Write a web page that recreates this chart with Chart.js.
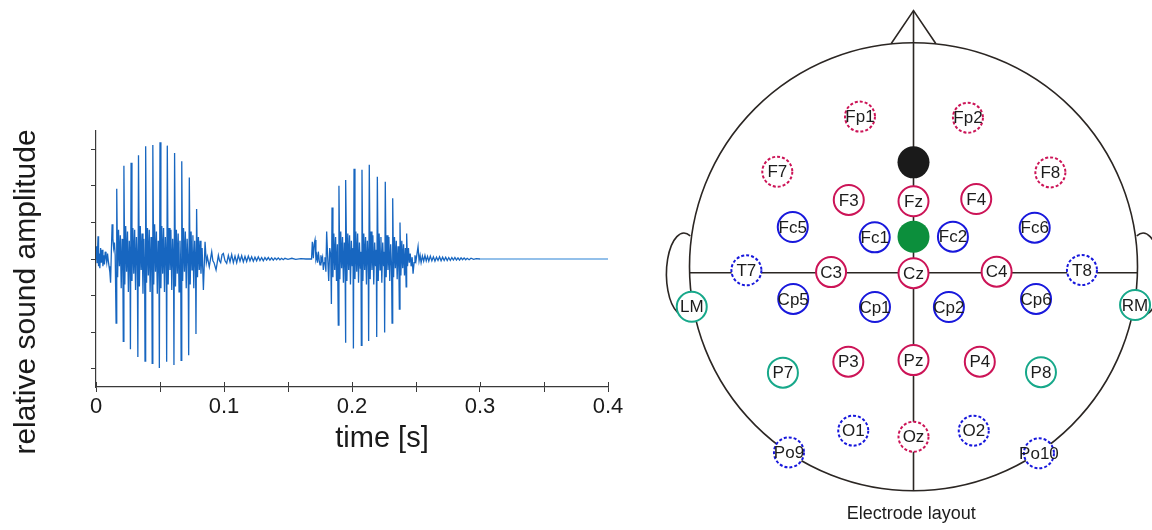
<!DOCTYPE html>
<html><head><meta charset="utf-8">
<script src="https://cdn.jsdelivr.net/npm/chart.js@4.4.1/dist/chart.umd.min.js"></script>
<style>
html,body{margin:0;padding:0;background:#fff;width:1152px;height:530px;overflow:hidden}
#wave{position:absolute;left:0;top:0}
#head{position:absolute;left:640px;top:0}
</style></head><body>
<canvas id="wave" width="640" height="530"></canvas>
<canvas id="head" width="512" height="530"></canvas>
<script>
// ---------------- waveform data ----------------
const xTickValues = [0, 0.05, 0.1, 0.15, 0.2, 0.25, 0.3, 0.35, 0.4];
const xTickLabels = ['0', '', '0.1', '', '0.2', '', '0.3', '', '0.4'];
const yTickValues = [-3, -2, -1, 0, 1, 2, 3];
const xTitle = 'time [s]';
const yTitle = 'relative sound amplitude';

// [time (s), relative amplitude]
const onset1 = [[0,0],[0.0004,0.35],[0.0008,-0.1],[0.0012,0.2],[0.0016,0.62],[0.002,-0.2],[0.0025,0.15],[0.003,-0.25],[0.0036,0.3],[0.0042,-0.1],[0.0048,0.25],[0.0054,-0.2],[0.006,0.1],[0.0066,-0.15],[0.0072,0.2],[0.0078,0.05],[0.0084,-0.1],[0.009,0.15],[0.0096,-0.05],[0.0102,-0.2],[0.0108,-0.35],[0.0114,-0.65],[0.012,0.2],[0.0126,0.95],[0.0132,0.55],[0.0138,0.3],[0.0144,0.45],[0.015,0.1]];
const burst1 = [
[0.0157,-1.75],[0.0162,1.92],[0.0169,-0.5],[0.0176,0.8],[0.0183,-0.2],[0.019,0.65],[0.0197,-0.8],[0.0204,0.55],[0.021,-0.3],
[0.0213,-2.25],[0.0218,2.55],[0.0225,-0.7],[0.0232,0.9],[0.0239,-0.35],[0.0246,0.75],[0.0253,-0.9],[0.026,0.5],[0.0266,-0.25],
[0.0269,-2.47],[0.0274,2.63],[0.0281,-0.6],[0.0288,0.85],[0.0295,-0.4],[0.0302,0.8],[0.0309,-0.85],[0.0316,0.6],[0.0323,-0.2],
[0.0327,-2.68],[0.0332,2.84],[0.0339,-0.75],[0.0346,0.9],[0.0353,-0.3],[0.036,0.7],[0.0367,-0.95],[0.0374,0.55],[0.038,-0.3],
[0.0383,-2.79],[0.0388,3.08],[0.0395,-0.65],[0.0402,0.85],[0.0409,-0.45],[0.0416,0.8],[0.0423,-0.9],[0.043,0.6],[0.0436,-0.25],
[0.0439,-2.85],[0.0444,3.12],[0.0451,-0.7],[0.0458,0.95],[0.0465,-0.35],[0.0472,0.75],[0.0479,-0.95],[0.0486,0.5],[0.0492,-0.3],
[0.0495,-2.98],[0.05,3.19],[0.0507,-0.8],[0.0514,0.9],[0.0521,-0.4],[0.0528,0.85],[0.0535,-0.9],[0.0542,0.6],[0.0549,-0.2],
[0.0552,-2.81],[0.0557,3.1],[0.0564,-0.7],[0.0571,0.85],[0.0578,-0.3],[0.0585,0.8],[0.0592,-0.85],[0.0599,0.55],[0.0606,-0.25],
[0.0609,-2.9],[0.0614,2.9],[0.0621,-0.75],[0.0628,0.8],[0.0635,-0.4],[0.0642,0.7],[0.0649,-0.9],[0.0656,0.5],[0.0662,-0.3],
[0.0665,-2.77],[0.067,2.67],[0.0677,-0.6],[0.0684,0.85],[0.0691,-0.35],[0.0698,0.75],[0.0705,-0.8],[0.0712,0.55],[0.072,-0.2],
[0.0724,-2.63],[0.0729,2.23],[0.0736,-0.7],[0.0743,0.75],[0.075,-0.3],[0.0757,0.65],[0.0764,-0.8],[0.0771,0.5],[0.0778,-0.25],
[0.0781,-2.05],[0.0786,1.37],[0.0793,-0.5],[0.08,0.6],[0.0807,-0.3],[0.0813,0.5]];
const decay1 = [[0.082,-0.4],[0.0829,0.3],[0.0839,-0.85],[0.0852,0.47],[0.0862,-0.1],[0.087,0.06],[0.0885,-0.21],[0.0904,0.2],[0.0913,-0.05],[0.0922,-0.1],[0.0938,-0.3],[0.0956,0.1],[0.0965,-0.05],[0.0974,-0.1],[0.0985,0.12],[0.0995,0.15],[0.1008,-0.05],[0.1021,-0.12],[0.1034,0.1],[0.1047,-0.08],[0.106,0.12],[0.1073,-0.1],[0.1086,0.08],[0.1099,-0.1],[0.1112,0.1],[0.1125,-0.06],[0.1138,0.09],[0.1151,-0.08],[0.1164,0.07],[0.1177,-0.07],[0.119,0.08],[0.1203,-0.05],[0.1216,0.06],[0.1229,-0.06],[0.1242,0.05],[0.1255,-0.05],[0.1268,0.06],[0.1281,-0.04],[0.1294,0.04],[0.1307,-0.05],[0.132,0.04],[0.1333,-0.03],[0.1346,0.04],[0.1359,-0.03],[0.1372,0.03],[0.1385,-0.03],[0.1398,0.03],[0.1411,-0.02],[0.1424,0.03],[0.1437,-0.02],[0.145,0.02],[0.1463,-0.02],[0.1476,0.02],[0.15,-0.01],[0.153,0.02],[0.156,-0.01],[0.16,0.01],[0.164,0],[0.1684,0]];
const onset2 = [[0.169,0.47],[0.1698,0.02],[0.1704,0.4],[0.1711,0.52],[0.1718,0],[0.1724,0.1],[0.173,-0.1],[0.1737,0.2],[0.1744,-0.05],[0.175,-0.16],[0.1757,0.1],[0.1763,-0.05],[0.177,0.05],[0.1776,-0.3],[0.1783,-0.1],[0.1789,0.05],[0.1796,-0.35],[0.1802,0.75],[0.181,0.05],[0.1818,-0.6],[0.1826,0.3],[0.1834,0.1]];
const burst2 = [
[0.1839,-1.23],[0.1844,1.41],[0.1851,-0.5],[0.1858,0.7],[0.1865,-0.3],[0.1872,0.6],[0.1879,-0.6],[0.1886,0.4],
[0.1893,-1.81],[0.1898,2.0],[0.1905,-0.55],[0.1912,0.75],[0.1919,-0.25],[0.1926,0.6],[0.1933,-0.65],[0.194,0.45],[0.1946,-0.2],
[0.1948,-2.29],[0.1953,2.16],[0.196,-0.6],[0.1967,0.7],[0.1974,-0.3],[0.1981,0.65],[0.1988,-0.7],[0.1995,0.5],[0.2002,-0.2],[0.2008,0.3],
[0.2011,-2.45],[0.2016,2.47],[0.2023,-0.55],[0.203,0.75],[0.2037,-0.35],[0.2044,0.7],[0.2051,-0.65],[0.2058,0.45],[0.2065,-0.25],[0.207,0.2],
[0.2073,-2.36],[0.2078,2.44],[0.2085,-0.6],[0.2092,0.7],[0.2099,-0.3],[0.2106,0.6],[0.2113,-0.7],[0.212,0.5],[0.2127,-0.2],
[0.213,-2.24],[0.2135,2.58],[0.2142,-0.55],[0.2149,0.75],[0.2156,-0.3],[0.2163,0.65],[0.217,-0.7],[0.2177,0.45],[0.2184,-0.2],[0.219,0.25],
[0.2193,-2.13],[0.2198,2.25],[0.2205,-0.6],[0.2212,0.7],[0.2219,-0.3],[0.2226,0.6],[0.2233,-0.65],[0.224,0.45],[0.2247,-0.2],[0.2252,0.2],
[0.2255,-2.01],[0.226,2.11],[0.2267,-0.5],[0.2274,0.65],[0.2281,-0.3],[0.2288,0.6],[0.2295,-0.6],[0.2302,0.4],[0.2309,-0.2],
[0.2313,-1.75],[0.2318,1.66],[0.2325,-0.5],[0.2332,0.6],[0.2339,-0.25],[0.2346,0.5],[0.2353,-0.55],[0.236,0.35],[0.2366,-0.2],
[0.237,-1.37],[0.2375,1.0],[0.2382,-0.45],[0.2389,0.5],[0.2396,-0.25],[0.2403,0.4],[0.241,-0.45],[0.2417,0.3]];
const decay2 = [[0.2423,-0.76],[0.2427,0.7],[0.2434,-0.2],[0.2441,0.3],[0.2448,-0.1],[0.2455,0.15],[0.2462,-0.2],[0.247,0.05],[0.2477,-0.4],[0.2485,-0.1],[0.2492,0.1],[0.25,-0.05],[0.2508,0.15],[0.2516,0.34],[0.2524,-0.05],[0.2532,0.1],[0.254,-0.1],[0.255,0.08],[0.256,-0.06],[0.257,0.1],[0.258,-0.05],[0.259,0.07],[0.26,-0.06],[0.2612,0.08],[0.2624,-0.05],[0.2636,0.06],[0.2648,-0.06],[0.266,0.05],[0.2672,-0.04],[0.2684,0.06],[0.2696,-0.05],[0.2708,0.05],[0.272,-0.04],[0.2732,0.05],[0.2744,-0.04],[0.2756,0.04],[0.2768,-0.04],[0.278,0.04],[0.2792,-0.03],[0.2804,0.04],[0.2816,-0.03],[0.2828,0.03],[0.284,-0.03],[0.2852,0.03],[0.2864,-0.02],[0.2876,0.03],[0.2888,-0.02],[0.29,0.02],[0.2915,-0.02],[0.293,0.02],[0.295,-0.01],[0.297,0.01]];
const silence = [[0.3,0],[0.4,0]];

// ---------------- electrode data (head radius = 100) ----------------
const electrodeNames = ['Fp1','Fp2','F7','F8','F3','Fz','F4','Fc5','Fc1','Fc2','Fc6','T7','C3','Cz','C4','T8','LM','RM','Cp5','Cp1','Cp2','Cp6','P7','P3','Pz','P4','P8','O1','Oz','O2','Po9','Po10'];
const electrodeX = [-23.9,24.3,-60.8,61.1,-28.9,0,28.0,-53.9,-17.3,17.6,54.1,-74.6,-36.8,0,37.1,75.2,-99.0,98.9,-53.7,-17.2,15.8,54.7,-58.3,-29.1,0,29.6,56.9,-26.9,0,26.9,-55.6,56.0];
const electrodeY = [67.0,66.5,42.4,42.1,29.8,29.2,30.2,17.7,13.1,13.4,17.4,-1.6,-2.4,-2.9,-2.2,-1.5,-17.9,-17.1,-14.4,-18.0,-18.0,-14.4,-47.3,-42.4,-41.7,-42.4,-47.1,-73.2,-75.9,-73.2,-82.9,-83.3];
const electrodeGroup = ['frontalExtra','frontalExtra','frontalExtra','frontalExtra','core','core','core','inner','inner','inner','inner','outer','core','core','core','outer','mastoid','mastoid','inner','inner','inner','inner','mastoid','core','core','core','mastoid','outer','frontalExtra','outer','outer','outer'];
const specialNames = ['ground','reference'];
const specialX = [0, 0];
const specialY = [46.6, 13.4];
const headRadius = 100;
const noseOutline = [[-10,99.5],[0,114.3],[10,99.5]];
const midline = [[0,114.3],[0,-100]];
const coronalLine = [[-100,-2.7],[100,-2.7]];
const caption = 'Electrode layout';

// ---------------- styles ----------------
const FONT = "'Liberation Sans', Arial, sans-serif";
const groupStyle = {
  core:         {color:'#cc1457', dashed:false},
  frontalExtra: {color:'#cc1457', dashed:true},
  inner:        {color:'#1818dc', dashed:false},
  outer:        {color:'#1818dc', dashed:true},
  mastoid:      {color:'#17a88a', dashed:false}
};
const specialColor = ['#1a1a1a', '#0c8f3c'];
const lineColor = '#2b2623';

// ---------------- waveform chart ----------------
const wavePoints = [...onset1, ...burst1, ...decay1, ...onset2, ...burst2, ...decay2, ...silence].map(([t, a]) => ({x: t, y: a}));

const axisColor = '#3a3a3a';
const innerTicks = {
  id: 'innerTicks',
  afterDraw(chart) {
    const {ctx, chartArea} = chart;
    const xs = chart.scales.x;
    ctx.save();
    ctx.strokeStyle = axisColor;
    ctx.lineWidth = 1;
    xs.ticks.forEach(t => {
      const px = Math.round(xs.getPixelForValue(t.value)) + 0.5;
      ctx.beginPath();
      ctx.moveTo(px, chartArea.bottom);
      ctx.lineTo(px, chartArea.bottom - 5);
      ctx.stroke();
    });
    ctx.fillStyle = '#1a1a1a';
    ctx.font = '29px ' + FONT;
    ctx.textAlign = 'center';
    ctx.textBaseline = 'alphabetic';
    ctx.fillText(xTitle, (chartArea.left + chartArea.right) / 2 + 30, 447);
    ctx.translate(27, (chartArea.top + chartArea.bottom) / 2 + 33);
    ctx.rotate(-Math.PI / 2);
    ctx.font = '30px ' + FONT;
    ctx.textBaseline = 'middle';
    ctx.fillText(yTitle, 0, 0);
    ctx.restore();
  }
};

new Chart(document.getElementById('wave'), {
  type: 'line',
  data: {datasets: [{
    data: wavePoints,
    borderColor: '#1766c0',
    borderWidth: 1.3,
    pointRadius: 0,
    tension: 0,
    segment: {
      borderColor: c => c.p0.parsed.x >= 0.3 ? '#93c0ea' : undefined,
      borderWidth: c => c.p0.parsed.x >= 0.3 ? 1.8 : undefined
    }
  }]},
  options: {
    responsive: false, animation: false,
    layout: {padding: {top: 131, right: 32, left: 0, bottom: 0}},
    plugins: {legend: {display: false}, tooltip: {enabled: false}},
    scales: {
      x: {
        type: 'linear', min: 0, max: 0.4,
        afterBuildTicks: s => { s.ticks = xTickValues.map(v => ({value: v})); },
        afterFit: s => { s.height = 143; },
        ticks: {
          autoSkip: false, maxRotation: 0, padding: 2,
          color: '#1a1a1a', font: {size: 22, family: FONT},
          callback: (v, i) => xTickLabels[i]
        },
        grid: {drawOnChartArea: false, drawTicks: true, tickLength: 5, color: axisColor, lineWidth: 1},
        border: {display: true, color: axisColor, width: 1.2}
      },
      y: {
        type: 'linear', min: -3.5, max: 3.5,
        afterBuildTicks: s => { s.ticks = yTickValues.map(v => ({value: v})); },
        afterFit: s => { s.width = 96; },
        ticks: {display: false},
        grid: {drawOnChartArea: false, drawTicks: true, tickLength: 5, color: axisColor, lineWidth: 1},
        border: {display: true, color: axisColor, width: 1.2}
      }
    }
  },
  plugins: [innerTicks]
});

// ---------------- electrode layout chart ----------------
const groups = Object.keys(groupStyle);
const electrodeDatasets = groups.map(g => {
  const idx = electrodeNames.map((n, i) => i).filter(i => electrodeGroup[i] === g);
  return {
    data: idx.map(i => ({x: electrodeX[i], y: electrodeY[i]})),
    labels: idx.map(i => electrodeNames[i]),
    dashed: groupStyle[g].dashed,
    pointRadius: 15,
    pointBorderWidth: 2,
    pointBorderColor: groupStyle[g].color,
    pointBackgroundColor: '#ffffff',
    showLine: false
  };
});
const specialDataset = {
  data: specialNames.map((n, i) => ({x: specialX[i], y: specialY[i]})),
  pointRadius: 16, pointBorderWidth: 0,
  pointBackgroundColor: specialColor, pointBorderColor: specialColor,
  showLine: false
};
const lineDataset = pts => ({
  data: pts.map(([x, y]) => ({x, y})),
  showLine: true, pointRadius: 0, borderColor: lineColor, borderWidth: 1.6, tension: 0, fill: false
});

const headPlugin = {
  id: 'headPlugin',
  beforeDatasetsDraw(chart) {
    const {ctx} = chart;
    const xs = chart.scales.x, ys = chart.scales.y;
    const cx = xs.getPixelForValue(0), cy = ys.getPixelForValue(0);
    const unit = xs.getPixelForValue(1) - cx;
    ctx.save();
    ctx.strokeStyle = lineColor;
    ctx.lineWidth = 1.6;
    ctx.beginPath();
    ctx.arc(cx, cy, headRadius * unit, 0, Math.PI * 2);
    ctx.stroke();
    // ears
    const ex = xs.getPixelForValue(-102.5), exr = xs.getPixelForValue(102.5), ey = ys.getPixelForValue(-3.3);
    ctx.beginPath();
    ctx.ellipse(ex, ey, 7.8 * unit, 18.3 * unit, 0, -1.2, Math.PI / 2, true);
    ctx.stroke();
    ctx.beginPath();
    ctx.ellipse(exr, ey, 7.8 * unit, 18.3 * unit, 0, Math.PI + 1.2, Math.PI / 2, false);
    ctx.stroke();
    ctx.restore();
  },
  beforeDatasetDraw(chart, args) {
    const ds = chart.data.datasets[args.index];
    if (ds.dashed) chart.ctx.setLineDash([3, 2]);
  },
  afterDatasetDraw(chart) {
    chart.ctx.setLineDash([]);
  },
  afterDatasetsDraw(chart) {
    const {ctx} = chart;
    ctx.save();
    ctx.fillStyle = '#1c1c1c';
    ctx.font = '17px ' + FONT;
    ctx.textAlign = 'center';
    ctx.textBaseline = 'middle';
    chart.data.datasets.forEach((ds, i) => {
      if (!ds.labels) return;
      chart.getDatasetMeta(i).data.forEach((pt, j) => ctx.fillText(ds.labels[j], pt.x, pt.y + 1));
    });
    ctx.font = '18px ' + FONT;
    ctx.fillText(caption, chart.scales.x.getPixelForValue(-1), 514);
    ctx.restore();
  }
};

new Chart(document.getElementById('head'), {
  type: 'scatter',
  data: {datasets: [specialDataset, ...electrodeDatasets, lineDataset(noseOutline), lineDataset(midline), lineDataset(coronalLine)]},
  options: {
    responsive: false, animation: false,
    layout: {padding: 0, autoPadding: false},
    plugins: {legend: {display: false}, tooltip: {enabled: false}},
    scales: {
      x: {type: 'linear', min: -122.1, max: 106.47, display: false},
      y: {type: 'linear', min: -117.54, max: 119.06, display: false}
    }
  },
  plugins: [headPlugin]
});
</script>
</body></html>
